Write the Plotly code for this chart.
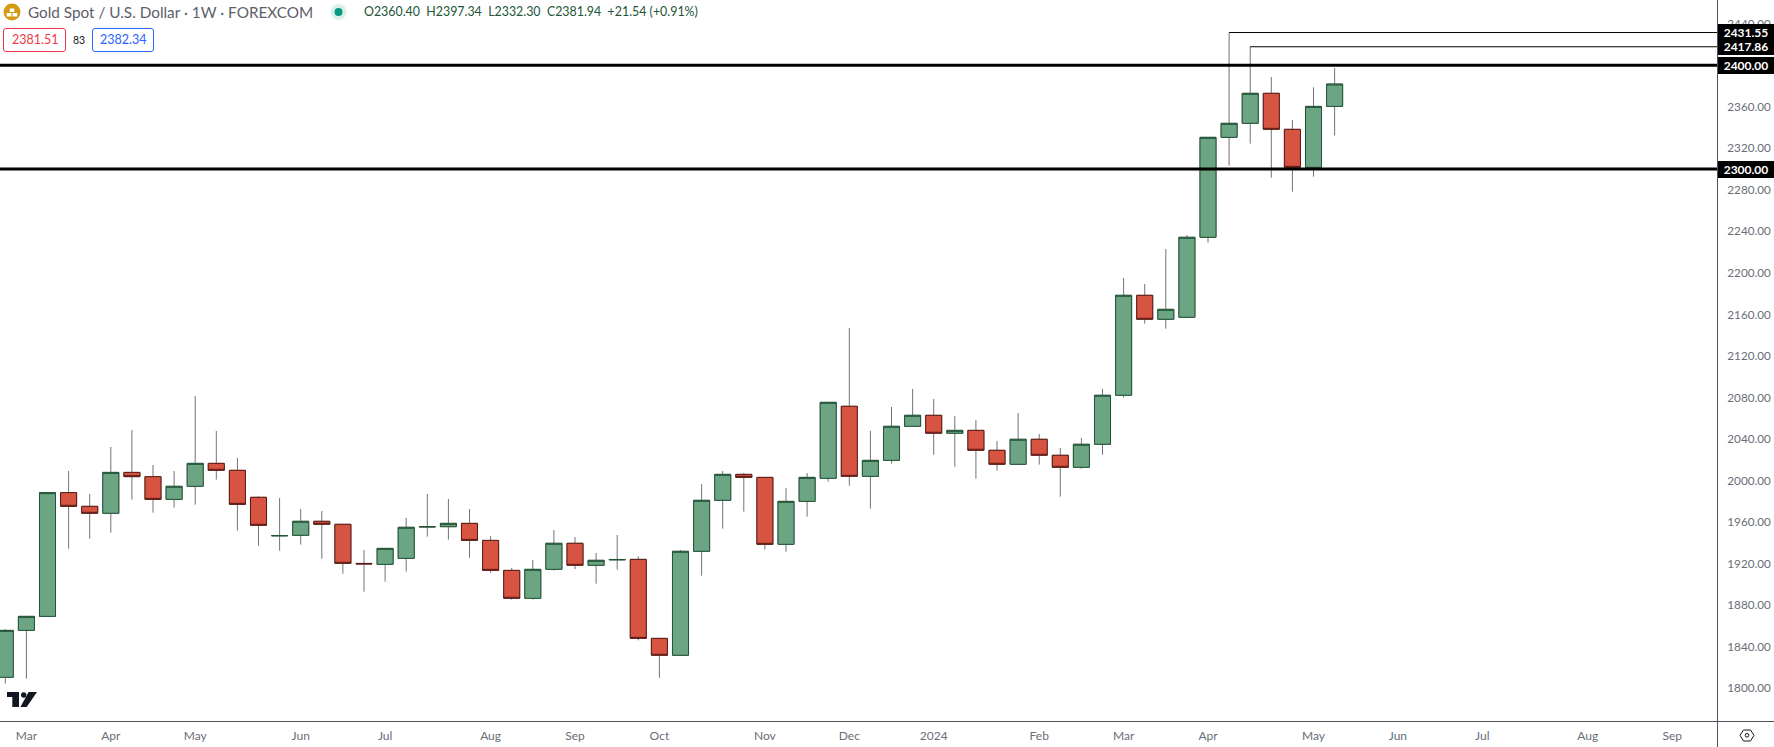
import plotly.graph_objects as go

# ---------- data ----------
opens = [1810.4,1855.6,1869.1,1988.3,1975.1,1968.4,2007.8,2003.7,1981.8,1994.4,
         2016.5,2009.8,1983.8,1946.6,1947.2,1960.7,1957.8,1920.1,1919.2,1925.0,
         1955.2,1955.5,1958.7,1942.3,1913.4,1886.5,1914.4,1939.5,1918.3,1923.5,
         1924.0,1847.9,1831.6,1931.8,1980.9,2005.9,2003.0,1938.5,1979.9,2002.1,
         2071.5,2004.0,2019.4,2052.2,2062.8,2045.5,2048.3,2029.1,2015.6,2039.7,
         2024.3,2012.7,2034.9,2082.1,2178.4,2155.3,2157.2,2234.3,2330.6,2344.1,
         2373.0,2338.3,2301.7,2360.40]
highs = [1856.9,1869.1,1988.3,2009.1,1987.0,2032.3,2048.6,2014.9,2009.1,2081.4,
         2047.7,2021.7,1984.7,1983.1,1972.5,1970.6,1957.8,1933.0,1934.6,1963.9,
         1987.0,1982.2,1972.5,1946.5,1915.7,1923.4,1952.3,1945.6,1930.1,1947.5,
         1926.9,1847.9,1933.0,1996.6,2009.1,2007.2,2003.0,1992.8,2007.2,2075.3,
         2146.9,2047.7,2070.8,2088.2,2078.5,2062.2,2058.3,2038.0,2065.0,2044.8,
         2031.3,2041.0,2088.2,2195.1,2189.3,2223.0,2236.5,2330.6,2431.55,2417.86,
         2388.7,2347.3,2378.8,2397.34]
lows = [1804.3,1809.1,1869.1,1934.3,1943.9,1949.7,1981.5,1969.0,1973.8,1976.7,
        2000.8,1951.7,1937.2,1932.4,1938.2,1924.7,1910.2,1892.9,1902.5,1912.2,
        1945.9,1943.0,1925.6,1911.2,1885.2,1885.2,1913.1,1914.7,1900.6,1914.1,
        1846.0,1810.0,1831.6,1908.3,1953.6,1970.0,1933.4,1931.4,1965.1,1998.9,
        1995.0,1972.9,2016.2,2052.2,2024.9,2013.3,2001.8,2009.5,2015.6,2015.3,
        1984.4,2011.4,2024.9,2079.8,2151.1,2146.3,2157.2,2229.2,2303.3,2324.5,
        2291.7,2278.2,2292.7,2332.30]
closes = [1855.6,1869.1,1988.3,1975.1,1968.4,2007.8,2003.7,1981.8,1994.4,2016.5,
          2009.8,1977.0,1956.8,1947.0,1960.7,1957.8,1920.2,1919.7,1934.6,1954.9,
          1955.6,1958.7,1942.3,1913.4,1886.5,1914.4,1939.5,1918.3,1923.1,1923.9,
          1847.9,1831.6,1931.8,1980.9,2005.9,2003.0,1938.5,1979.9,2003.0,2075.3,
          2004.0,2019.4,2052.2,2062.8,2045.5,2048.3,2029.1,2015.6,2039.7,2024.3,
          2012.7,2034.9,2082.1,2178.4,2155.3,2164.9,2234.3,2330.6,2344.1,2373.0,
          2338.3,2301.7,2360.4,2381.94]
bars = list(range(len(opens)))

level_values = [2400.00, 2300.00]
high_marks = [(58, 2431.55), (59, 2417.86)]

month_pos = [1,5,9,14,18,23,27,31,36,40,44,49,53,57,62,66,70,75,79]
month_text = ["Mar","Apr","May","Jun","Jul","Aug","Sep","Oct","Nov","Dec","2024",
              "Feb","Mar","Apr","May","Jun","Jul","Aug","Sep"]
price_ticks = list(range(1800, 2441, 40))

title_text = "Gold Spot / U.S. Dollar · 1W · FOREXCOM"
ohlc_text = "O2360.40  H2397.34  L2332.30  C2381.94  +21.54 (+0.91%)"
bid, spread, ask = "2381.51", "83", "2382.34"

# ---------- style ----------
W, H = 1774, 747
PW, PH = 1718, 721
GREEN, GREEN_D = "#6ba583", "#225437"
RED, RED_D = "#d75442", "#5b1a13"
WICK = "#737375"
FONT = "Lato, 'Open Sans', sans-serif"
XMIN, XMAX = -0.251, 81.17

def px(x): return x / PW
def py(y): return 1 - y / PH

def rrect(x0, y0, x1, y1, r):
    return (f"M{px(x0+r)},{py(y0)} L{px(x1-r)},{py(y0)} Q{px(x1)},{py(y0)} {px(x1)},{py(y0+r)} "
            f"L{px(x1)},{py(y1-r)} Q{px(x1)},{py(y1)} {px(x1-r)},{py(y1)} L{px(x0+r)},{py(y1)} "
            f"Q{px(x0)},{py(y1)} {px(x0)},{py(y1-r)} L{px(x0)},{py(y0+r)} Q{px(x0)},{py(y0)} {px(x0+r)},{py(y0)} Z")

def poly(points):
    return "M" + " L".join(f"{px(a)},{py(b)}" for a, b in points) + " Z"

def circle(cx, cy, r):
    return dict(type="circle", xref="paper", yref="paper", x0=px(cx-r), x1=px(cx+r),
                y0=py(cy+r), y1=py(cy-r))

fig = go.Figure()

# wicks
fig.add_trace(go.Candlestick(
    x=bars, open=opens, high=highs, low=lows, close=closes,
    increasing=dict(line=dict(color=WICK, width=1), fillcolor="rgba(0,0,0,0)"),
    decreasing=dict(line=dict(color=WICK, width=1), fillcolor="rgba(0,0,0,0)"),
    whiskerwidth=0, showlegend=False, hoverinfo="skip"))
# bodies
fig.add_trace(go.Candlestick(
    x=bars, open=opens, close=closes,
    high=[max(a, b) for a, b in zip(opens, closes)],
    low=[min(a, b) for a, b in zip(opens, closes)],
    increasing=dict(line=dict(color=GREEN_D, width=1), fillcolor=GREEN),
    decreasing=dict(line=dict(color=RED_D, width=1), fillcolor=RED),
    whiskerwidth=0, showlegend=False, hoverinfo="skip"))

# lines running from the two highs to the price scale
for bar, val in high_marks:
    fig.add_trace(go.Scatter(x=[bar, XMAX], y=[val, val], mode="lines",
                             line=dict(color="#000000", width=1),
                             showlegend=False, hoverinfo="skip"))
# thick horizontal levels
for val in level_values:
    fig.add_trace(go.Scatter(x=[XMIN, XMAX], y=[val, val], mode="lines",
                             line=dict(color="#000000", width=3),
                             showlegend=False, hoverinfo="skip"))

shapes = [
    # axis borders
    dict(type="line", xref="paper", yref="paper", x0=0, x1=px(W), y0=py(721.5), y1=py(721.5),
         line=dict(color="#50535e", width=1)),
    dict(type="line", xref="paper", yref="paper", x0=px(1717.5), x1=px(1717.5), y0=py(0), y1=py(H),
         line=dict(color="#50535e", width=1)),
    # bid / ask boxes
    dict(type="path", xref="paper", yref="paper", path=rrect(3.5, 28.5, 65.5, 51.5, 2.5),
         line=dict(color="#f23645", width=1), fillcolor="white"),
    dict(type="path", xref="paper", yref="paper", path=rrect(92.5, 28.5, 153.5, 51.5, 2.5),
         line=dict(color="#2962ff", width=1), fillcolor="white"),
    # symbol icon
    {**circle(12, 12, 8.5), "fillcolor": "#d39a12", "line": dict(width=0)},
    dict(type="rect", xref="paper", yref="paper", x0=px(9.7), x1=px(14.3), y0=py(12), y1=py(8.5),
         fillcolor="white", line=dict(width=0)),
    dict(type="rect", xref="paper", yref="paper", x0=px(6.8), x1=px(11.4), y0=py(16.5), y1=py(13),
         fillcolor="white", line=dict(width=0)),
    dict(type="rect", xref="paper", yref="paper", x0=px(12.6), x1=px(17.2), y0=py(16.5), y1=py(13),
         fillcolor="white", line=dict(width=0)),
    # status dot
    {**circle(338.5, 12, 8), "fillcolor": "#daf0ea", "line": dict(width=0)},
    {**circle(338.5, 12, 4), "fillcolor": "#089981", "line": dict(width=0)},
    # TradingView mark
    dict(type="path", xref="paper", yref="paper", fillcolor="#131722", line=dict(width=0),
         path=poly([(7, 692), (19, 692), (19, 707), (12.3, 707), (12.3, 697), (7, 697)])),
    {**circle(23.7, 695, 2.7), "fillcolor": "#131722", "line": dict(width=0)},
    dict(type="path", xref="paper", yref="paper", fillcolor="#131722", line=dict(width=0),
         path=poly([(28.6, 692), (37, 692), (26.7, 707), (20.4, 707)])),
    # settings icon
    dict(type="path", xref="paper", yref="paper", fillcolor="white", line=dict(color="#131722", width=1),
         path=poly([(1740, 735.3), (1743.5, 730), (1750.5, 730), (1754, 735.3), (1750.5, 741), (1743.5, 741)])),
    {**circle(1747, 735.3, 1.8), "fillcolor": "white", "line": dict(color="#131722", width=1)},
]

annotations = [
    dict(text=title_text, x=px(25.5), y=py(12), xref="paper", yref="paper", xanchor="left", yanchor="middle",
         showarrow=False, font=dict(family=FONT, size=15.3, color="#5d606b")),
    dict(text=ohlc_text, x=px(362), y=py(12), xref="paper", yref="paper", xanchor="left", yanchor="middle",
         showarrow=False, font=dict(family=FONT, size=12.4, color="#225437")),
    dict(text=bid, x=px(34.5), y=py(40), xref="paper", yref="paper", xanchor="center", yanchor="middle",
         showarrow=False, font=dict(family=FONT, size=12.5, color="#f23645")),
    dict(text=spread, x=px(78.5), y=py(40), xref="paper", yref="paper", xanchor="center", yanchor="middle",
         showarrow=False, font=dict(family=FONT, size=10.5, color="#131722")),
    dict(text=ask, x=px(123), y=py(40), xref="paper", yref="paper", xanchor="center", yanchor="middle",
         showarrow=False, font=dict(family=FONT, size=12.5, color="#2962ff")),
]
# price tags on the scale
for val in [m[1] for m in high_marks] + level_values:
    annotations.append(dict(
        text=f"<b>{val:.2f}</b>", x=px(1718), y=val, xref="paper", yref="y",
        xanchor="left", yanchor="middle", showarrow=False, align="center",
        width=56, height=17, bgcolor="#000000", borderpad=0, borderwidth=0,
        font=dict(family=FONT, size=12, color="#ffffff")))

fig.update_layout(
    width=W, height=H, autosize=False,
    margin=dict(l=0, r=W - PW, t=0, b=H - PH, pad=0),
    paper_bgcolor="white", plot_bgcolor="white",
    boxmode="overlay", boxgap=0.24, boxgroupgap=0, showlegend=False,
    shapes=shapes, annotations=annotations,
    xaxis=dict(range=[XMIN, XMAX], tickmode="array", tickvals=month_pos, ticktext=month_text,
               showgrid=False, zeroline=False, showline=False, rangeslider=dict(visible=False),
               ticks="outside", ticklen=4, tickcolor="rgba(0,0,0,0)",
               tickfont=dict(family=FONT, size=12, color="#6a6d78")),
    yaxis=dict(range=[1768.3, 2462.9], side="right", tickmode="array", tickvals=price_ticks,
               ticktext=[f"{v:.2f}" for v in price_ticks], showgrid=False, zeroline=False, showline=False,
               ticks="outside", ticklen=6, tickcolor="rgba(0,0,0,0)",
               tickfont=dict(family=FONT, size=11.7, color="#6a6d78")),
)

fig.write_html("out.html", config=dict(displayModeBar=False),
               post_script="document.body.style.margin='0';document.body.style.overflow='hidden';")
